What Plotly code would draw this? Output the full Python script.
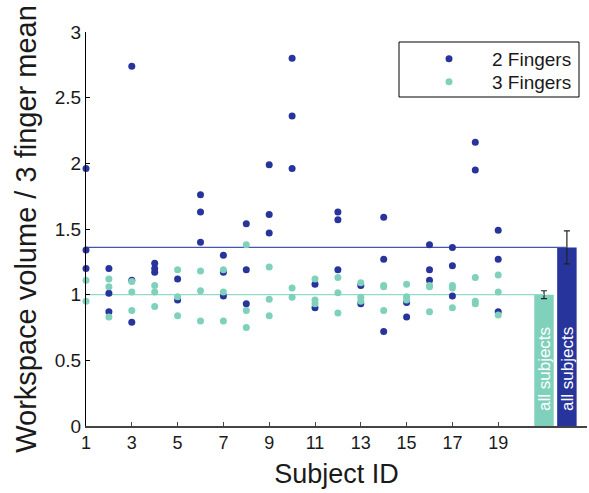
import plotly.graph_objects as go

subjects = list(range(1, 20))
two_fingers = [
    [1.96, 1.34, 1.20], [1.20, 1.01, 0.87], [2.74, 1.11, 0.79], [1.24, 1.20, 1.17],
    [1.12, 0.96], [1.76, 1.63, 1.40], [1.30, 1.17, 0.99], [1.54, 1.19, 0.93],
    [1.99, 1.61, 1.47], [2.80, 2.36, 1.96], [1.08, 0.90], [1.63, 1.57, 1.19],
    [1.07, 0.93], [1.59, 1.27, 0.72], [0.94, 0.83], [1.38, 1.19, 1.11],
    [1.36, 1.22, 0.99], [2.16, 1.95], [1.49, 1.27, 0.87],
]
three_fingers = [
    [1.11, 0.95], [1.12, 1.06, 0.83], [1.10, 1.02, 0.88], [1.07, 1.02, 0.91],
    [1.19, 0.985, 0.84], [1.18, 1.03, 0.80], [1.19, 1.02, 0.80], [1.38, 0.88, 0.75],
    [1.21, 0.965, 0.84], [1.05, 0.98], [1.12, 0.96, 0.93], [1.13, 1.015, 0.86],
    [1.09, 0.98, 0.95], [1.07, 1.06, 0.88], [1.08, 0.985, 0.96], [1.07, 1.06, 0.87],
    [1.07, 1.05, 0.90], [1.13, 0.95, 0.93], [1.15, 1.02, 0.845],
]
series_names = ["2 Fingers", "3 Fingers"]
summary_x = [22, 21]          # bar positions for 2 fingers, 3 fingers
summary_mean = [1.36, 1.00]
summary_err = [0.125, 0.03]
bar_label = "all subjects"
x_ticks = [1, 3, 5, 7, 9, 11, 13, 15, 17, 19]
y_ticks = [0, 0.5, 1, 1.5, 2, 2.5, 3]
y_tick_labels = ["0", "0.5", "1", "1.5", "2", "2.5", "3"]

BLUE = "#27349b"
TEAL = "#80d1bc"
LINE_COLORS = ["#4455b0", "#8fdac8"]
colors = [BLUE, TEAL]
FONT = "Liberation Sans, Arial, sans-serif"

def flatten(groups):
    xs, ys = [], []
    for s, vals in zip(subjects, groups):
        for v in vals:
            xs.append(s)
            ys.append(v)
    return xs, ys

L, R, T, B = 86, 2, 32, 67
W, H = 589, 493
pw, ph = W - L - R, H - T - B

def px2paper(x, y):
    return (x - L) / pw, (H - B - y) / ph

fig = go.Figure()

# mean lines
for i in range(2):
    fig.add_trace(go.Scatter(
        x=[subjects[0], summary_x[i]], y=[summary_mean[i]] * 2, mode="lines",
        line=dict(color=LINE_COLORS[i], width=1.3), showlegend=False, hoverinfo="skip"))

# summary bars
for i in [1, 0]:
    fig.add_trace(go.Bar(
        x=[summary_x[i]], y=[summary_mean[i]], width=0.85,
        marker=dict(color=colors[i], line=dict(width=0)),
        error_y=dict(type="data", array=[summary_err[i]], color="#222222",
                     thickness=1.2, width=3),
        showlegend=False))

# scatter points
legend_names = ["legend", "legend2"]
for i, groups in enumerate([two_fingers, three_fingers]):
    xs, ys = flatten(groups)
    fig.add_trace(go.Scatter(
        x=xs, y=ys, mode="markers", name=series_names[i], legend=legend_names[i],
        marker=dict(color=colors[i], size=7, line=dict(width=0)),
        cliponaxis=False))

for i in range(2):
    fig.add_annotation(
        x=summary_x[i], y=0, xref="x", yref="y", text=bar_label, textangle=-90,
        showarrow=False, xanchor="center", yanchor="bottom", yshift=13,
        font=dict(family=FONT, size=17, color="white"))

x0, y0 = px2paper(399, 42)
x1, y1 = px2paper(579, 97)
fig.add_shape(type="rect", xref="paper", yref="paper", x0=x0, y0=y1, x1=x1, y1=y0,
              line=dict(color="black", width=1), fillcolor="rgba(0,0,0,0)")

leg_common = dict(xanchor="left", yanchor="middle", bgcolor="rgba(0,0,0,0)",
                  borderwidth=0, itemwidth=76,
                  font=dict(family=FONT, size=19, color="#1a1a1a"))
lx, ly1 = px2paper(406, 59)
_, ly2 = px2paper(406, 82)

fig.update_layout(
    width=W, height=H, margin=dict(l=L, r=R, t=T, b=B),
    plot_bgcolor="white", paper_bgcolor="white",
    font=dict(family=FONT, color="#1a1a1a"),
    barmode="overlay",
    legend=dict(x=lx, y=ly1, **leg_common),
    legend2=dict(x=lx, y=ly2, **leg_common),
    xaxis=dict(range=[1, 1 + pw / 22.9], tickvals=x_ticks, ticks="inside", ticklen=4,
               tickcolor="#444", showline=True, linecolor="#444", linewidth=1.5,
               showgrid=False, zeroline=False, tickfont=dict(size=18),
               title=dict(text="Subject ID", font=dict(size=27), standoff=12)),
    yaxis=dict(range=[0, 3], tickvals=y_ticks, ticktext=y_tick_labels, ticks="inside",
               ticklen=4, tickcolor="#000", showline=True, linecolor="#000", linewidth=1.2,
               showgrid=False, zeroline=False, tickfont=dict(size=19),
               title=dict(text="Workspace volume / 3 finger mean", font=dict(size=29), standoff=9)),
)

fig.write_html("out.html", config={"displayModeBar": False},
               post_script="document.body.style.margin='0';document.body.style.padding='0';")
